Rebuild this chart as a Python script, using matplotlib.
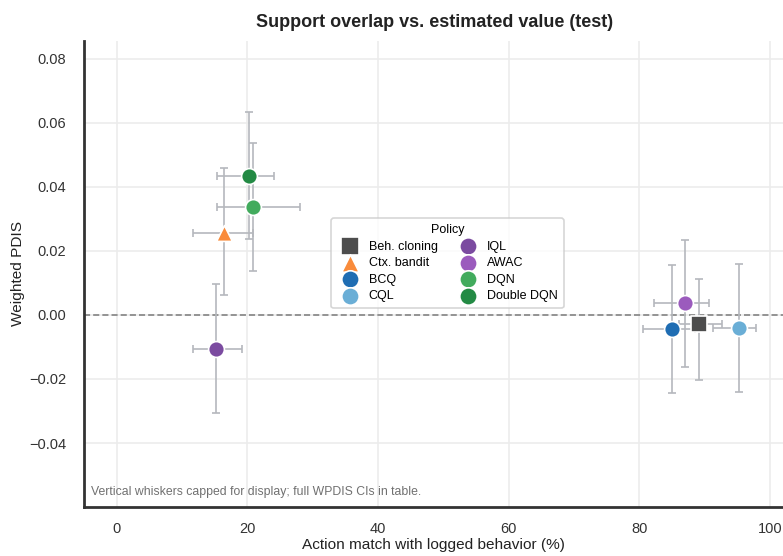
import matplotlib
matplotlib.use("Agg")
import matplotlib.pyplot as plt
import numpy as np

plt.rcParams['font.family'] = ['Liberation Sans', 'DejaVu Sans']

policies = ["Beh. cloning", "Ctx. bandit", "BCQ", "CQL", "IQL", "AWAC", "DQN", "Double DQN"]
match_pct = [89.2, 16.5, 85.0, 95.2, 15.2, 87.0, 20.8, 20.2]
match_lo = [86.1, 11.7, 80.6, 91.3, 11.7, 82.3, 15.4, 15.4]
match_hi = [92.7, 20.9, 88.5, 97.8, 19.2, 90.7, 28.1, 24.1]
wpdis = [-0.0027, 0.0257, -0.0045, -0.0040, -0.0105, 0.0036, 0.0338, 0.0434]
wpdis_lo = [-0.0203, 0.0062, -0.0243, -0.0240, -0.0305, -0.0163, 0.0138, 0.0238]
wpdis_hi = [0.0112, 0.0460, 0.0157, 0.0160, 0.0096, 0.0235, 0.0538, 0.0635]

colors = ["#4d4d4d", "#f98b3b", "#1f6db3", "#6aaed6", "#7b4ba0", "#9b5bbd", "#42ab5d", "#238a44"]
markers = ["s", "^", "o", "o", "o", "o", "o", "o"]

fig = plt.figure(figsize=(7.83, 5.56), dpi=100)
ax = fig.add_axes([0.1073, 0.0881, 0.8927, 0.8387])

ax.set_axisbelow(True)
ax.grid(True, color="#ececec", linewidth=1.2)
ax.axhline(0.0, color="#7a7a7a", linestyle=(0, (4, 2)), linewidth=1.1, zorder=1.5)

for i, name in enumerate(policies):
    x, y = match_pct[i], wpdis[i]
    xerr = [[x - match_lo[i]], [match_hi[i] - x]]
    yerr = [[y - wpdis_lo[i]], [wpdis_hi[i] - y]]
    ax.errorbar(x, y, xerr=xerr, yerr=yerr, fmt="none", ecolor="#b5b8bd",
                elinewidth=1.2, capsize=3, capthick=1.2, zorder=2)
    ax.scatter(x, y, s=130, marker=markers[i], color=colors[i], edgecolor="white",
               linewidth=1.2, zorder=3, label=name)

ax.set_xlim(-5, 102)
ax.set_ylim(-0.06, 0.0857)
ax.set_xticks([0, 20, 40, 60, 80, 100])
ax.set_yticks([-0.04, -0.02, 0.0, 0.02, 0.04, 0.06, 0.08])
ax.set_yticklabels(["\u22120.04", "\u22120.02", "0.00", "0.02", "0.04", "0.06", "0.08"])
ax.tick_params(axis="both", length=0, labelsize=10.5, labelcolor="#333333")
ax.tick_params(axis="x", pad=11)
ax.tick_params(axis="y", pad=13)

for side in ["top", "right"]:
    ax.spines[side].set_visible(False)
for side in ["left", "bottom"]:
    ax.spines[side].set_color("#333333")
    ax.spines[side].set_linewidth(2)

ax.set_xlabel("Action match with logged behavior (%)", fontsize=11.1, color="#222222", labelpad=1)
ax.set_ylabel("Weighted PDIS", fontsize=11.1, color="#222222", labelpad=3)
fig.suptitle("Support overlap vs. estimated value (test)", fontsize=13,
             fontweight="bold", color="#222222", x=0.555, y=0.975)

ax.text(0.01, 0.025, "Vertical whiskers capped for display; full WPDIS CIs in table.",
        transform=ax.transAxes, fontsize=8.8, color="#707070")

leg = ax.legend(title="Policy", ncol=2, loc="center", bbox_to_anchor=(0.52, 0.523),
                fontsize=9, title_fontsize=9, frameon=True, edgecolor="#cccccc",
                handletextpad=0.5, columnspacing=1.4, labelspacing=0.35,
                borderpad=0.5, markerscale=1.1)
leg.get_frame().set_linewidth(1.2)

fig.savefig("out.png", dpi=100)
